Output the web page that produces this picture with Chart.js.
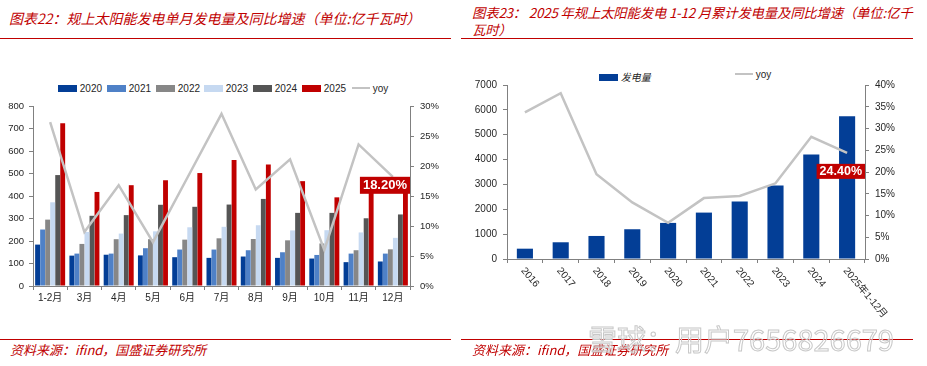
<!DOCTYPE html>
<html>
<head>
<meta charset="utf-8">
<script src="https://cdn.jsdelivr.net/npm/chart.js@4"></script>
<style>
  body { margin: 0; background: #fff; width: 927px; height: 366px; position: relative; overflow: hidden; font-family: "Liberation Sans", "Noto Sans CJK SC", sans-serif; }
  .title { position: absolute; color: #c00000; font-family: "Noto Sans CJK SC", sans-serif; font-style: italic; font-size: 14px; line-height: 17px; white-space: nowrap; }
  .rule { position: absolute; height: 1px; background: #c00000; }
  .src { position: absolute; color: #c00000; font-family: "Noto Sans CJK SC", sans-serif; font-style: italic; font-size: 13px; white-space: nowrap; }
  .box { position: absolute; }
  .legend { position: absolute; font-size: 10px; color: #262626; white-space: nowrap; }
  .legend span { position: absolute; top: 0; }
  .sw { display: inline-block; width: 19px; height: 7px; }
  .ln { display: inline-block; width: 18px; height: 2px; background: #c3c3c3; }
  .wm { position: absolute; left: 588px; top: 317px; font-family: "Noto Sans CJK SC", sans-serif; font-size: 29px; color: rgba(255,255,255,0.2); -webkit-text-stroke: 1px #c8c8c8; white-space: nowrap; }
</style>
</head>
<body>
<div class="title" style="left:9px; top:10px;">图表22：规上太阳能发电单月发电量及同比增速（单位:亿千瓦时）</div>
<div class="rule" style="left:0; top:38px; width:451px;"></div>
<div class="title" style="left:472px; top:4px; font-size:13.4px; letter-spacing:-0.2px;">图表23： 2025 年规上太阳能发电 1-12 月累计发电量及同比增速（单位:亿千<br>瓦时）</div>
<div class="rule" style="left:461px; top:38px; width:452px;"></div>

<div class="legend" id="leg1" style="left:0; top:83px; width:455px; height:12px;"></div>
<div class="legend" id="leg2" style="left:0; top:69px; width:927px; height:12px;"></div>

<div class="box" style="left:0; top:45px; width:455px; height:275px;"><canvas id="c1" width="455" height="275"></canvas></div>
<div class="box" style="left:460px; top:45px; width:467px; height:280px;"><canvas id="c2" width="467" height="280"></canvas></div>

<div class="rule" style="left:0; top:339px; width:451px;"></div>
<div class="src" style="left:10px; top:340px;">资料来源：ifind，国盛证券研究所</div>
<div class="rule" style="left:461px; top:339px; width:452px;"></div>
<div class="src" style="left:472px; top:340px;">资料来源：ifind，国盛证券研究所</div>
<div class="wm">雪球：用户7656826679</div>

<script>
// 单月发电量 (亿千瓦时)
const months = ["1-2月", "3月", "4月", "5月", "6月", "7月", "8月", "9月", "10月", "11月", "12月"];
const y2020 = [184, 135, 139, 136, 128, 125, 131, 125, 122, 106, 109];
const y2021 = [251, 144, 144, 168, 162, 162, 159, 150, 138, 144, 144];
const y2022 = [295, 187, 208, 208, 206, 212, 209, 203, 189, 159, 163];
const y2023 = [372, 240, 233, 243, 261, 263, 270, 247, 248, 238, 214];
const y2024 = [493, 312, 315, 361, 352, 362, 387, 325, 325, 301, 318];
const y2025 = [723, 418, 448, 470, 502, 560, 540, 466, 394, 440, 450];
const yoyMonthly = [27.3, 9.0, 16.8, 7.3, 18.0, 28.7, 16.1, 21.1, 6.0, 23.6, 18.2];

// 1-12月累计发电量
const years = ["2016", "2017", "2018", "2019", "2020", "2021", "2022", "2023", "2024", "2025年1-12月"];
const generation = [415, 673, 927, 1197, 1452, 1867, 2311, 2956, 4206, 5738];
const yoyAnnual = [33.7, 38.1, 19.5, 13.0, 8.3, 14.0, 14.5, 17.4, 28.1, 24.4];

const barColors = ["#033e96", "#4f81c7", "#878787", "#c6d9f1", "#555555", "#c00000"];
const seriesNames = ["2020", "2021", "2022", "2023", "2024", "2025"];
const seriesData = [y2020, y2021, y2022, y2023, y2024, y2025];
const lineColor = "#c3c3c3";
const axisColor = "#808080";
const tickColor = "#262626";

// html legends
const leg1 = document.getElementById("leg1");
const leg1X = [58, 107, 156, 204, 253, 302];
seriesNames.forEach((n, i) => {
    leg1.innerHTML += `<span style="left:${leg1X[i]}px"><i class="sw" style="background:${barColors[i]}"></i> ${n}</span>`;
});
leg1.innerHTML += `<span style="left:352px"><i class="ln" style="vertical-align:3px"></i> yoy</span>`;
const leg2 = document.getElementById("leg2");
leg2.innerHTML = `<span style="left:599px"><i class="sw" style="background:#033e96"></i> <span style="position:static;font-family:'Noto Sans CJK SC';font-style:italic">发电量</span></span>` +
    `<span style="left:735px"><i class="ln" style="vertical-align:3px"></i> yoy</span>`;

// red value tag at the last yoy point
function tagPlugin(text, fontSize, boxH, dy) {
    return {
        id: "tag",
        afterDatasetsDraw(chart) {
            const meta = chart.getDatasetMeta(0);
            const pt = meta.data[meta.data.length - 1];
            const ctx = chart.ctx;
            ctx.save();
            ctx.font = `bold ${fontSize}px "Liberation Sans"`;
            const w = ctx.measureText(text).width + 6;
            const right = chart.chartArea.right;
            const top = pt.y + dy;
            ctx.fillStyle = "#c00000";
            ctx.fillRect(right - w, top, w, boxH);
            ctx.fillStyle = "#fff";
            ctx.textAlign = "center";
            ctx.textBaseline = "middle";
            ctx.fillText(text, right - w / 2, top + boxH / 2 + 0.5);
            ctx.restore();
        }
    };
}

const yAxisBase = {
    border: { display: true, color: axisColor },
    grid: { drawOnChartArea: false, drawTicks: true, tickLength: 4, color: axisColor }
};

// 图表22
new Chart(document.getElementById("c1"), {
    type: "bar",
    data: {
        labels: months,
        datasets: [{
            type: "line",
            label: "yoy",
            data: yoyMonthly,
            yAxisID: "y1",
            borderColor: lineColor,
            borderWidth: 2.5,
            pointRadius: 0,
            tension: 0,
            order: 0
        }].concat(seriesData.map((d, i) => ({
            label: seriesNames[i],
            data: d,
            backgroundColor: barColors[i],
            categoryPercentage: 0.88,
            barPercentage: 0.97,
            order: 1
        })))
    },
    options: {
        responsive: false,
        animation: false,
        layout: { padding: { top: 61, left: 0, right: 0, bottom: 0 } },
        plugins: { legend: { display: false }, tooltip: { enabled: false } },
        scales: {
            x: {
                border: { display: true, color: axisColor },
                grid: { drawOnChartArea: false, drawTicks: true, tickLength: 4, color: axisColor, offset: true },
                ticks: { color: tickColor, padding: 2, maxRotation: 0, autoSkip: false, font: { family: "Liberation Sans, Noto Sans CJK SC", size: 10 } },
                afterFit: s => { s.height = 34; }
            },
            y: Object.assign({}, yAxisBase, {
                position: "left",
                min: 0, max: 800,
                ticks: { color: tickColor, padding: 5, stepSize: 100, callback: v => String(v), font: { family: "Liberation Sans", size: 9.5 } },
                afterFit: s => { s.width = 33; }
            }),
            y1: Object.assign({}, yAxisBase, {
                position: "right",
                min: 0, max: 30,
                ticks: { color: tickColor, padding: 6, stepSize: 5, callback: v => v + "%", font: { family: "Liberation Sans", size: 9.5 } },
                afterFit: s => { s.width = 45; }
            })
        }
    },
    plugins: [tagPlugin("18.20%", 13, 17, 0)]
});

// 图表23 rotated year labels
const slantLabels = {
    id: "slant",
    afterDraw(chart) {
        const xs = chart.scales.x;
        const ctx = chart.ctx;
        ctx.save();
        ctx.fillStyle = tickColor;
        ctx.font = '10px "Liberation Sans", "Noto Sans CJK SC"';
        ctx.textAlign = "left";
        ctx.textBaseline = "middle";
        years.forEach((lab, i) => {
            const x = xs.getPixelForValue(i);
            ctx.save();
            ctx.translate(x - 2, xs.top + 10);
            ctx.rotate(50 * Math.PI / 180);
            ctx.fillText(lab, 0, 0);
            ctx.restore();
        });
        ctx.restore();
    }
};

new Chart(document.getElementById("c2"), {
    type: "bar",
    data: {
        labels: years,
        datasets: [{
            type: "line",
            label: "yoy",
            data: yoyAnnual,
            yAxisID: "y1",
            borderColor: lineColor,
            borderWidth: 2.5,
            pointRadius: 0,
            tension: 0,
            order: 0
        }, {
            label: "发电量",
            data: generation,
            backgroundColor: "#033e96",
            categoryPercentage: 1,
            barPercentage: 0.45,
            order: 1
        }]
    },
    options: {
        responsive: false,
        animation: false,
        layout: { padding: { top: 40, left: 0, right: 0, bottom: 0 } },
        plugins: { legend: { display: false }, tooltip: { enabled: false } },
        scales: {
            x: {
                border: { display: true, color: axisColor },
                grid: { drawOnChartArea: false, drawTicks: true, tickLength: 4, color: axisColor, offset: true },
                ticks: { display: false },
                afterFit: s => { s.height = 66; }
            },
            y: Object.assign({}, yAxisBase, {
                position: "left",
                min: 0, max: 7000,
                ticks: { color: tickColor, padding: 6, stepSize: 1000, callback: v => String(v), font: { family: "Liberation Sans", size: 10 } },
                afterFit: s => { s.width = 47; }
            }),
            y1: Object.assign({}, yAxisBase, {
                position: "right",
                min: 0, max: 40,
                ticks: { color: tickColor, padding: 6, stepSize: 5, callback: v => v + "%", font: { family: "Liberation Sans", size: 10 } },
                afterFit: s => { s.width = 62; }
            })
        }
    },
    plugins: [slantLabels, tagPlugin("24.40%", 12.5, 15, 11)]
});
</script>
</body>
</html>
